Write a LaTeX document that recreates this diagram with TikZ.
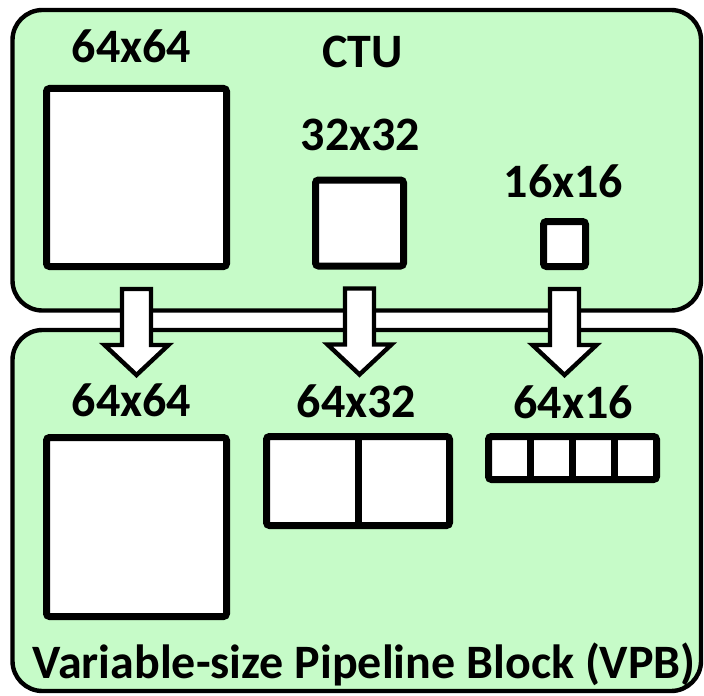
\documentclass[tikz,border=0pt]{standalone}
\usepackage{fontspec}
\setmainfont{Carlito}
\usetikzlibrary{positioning,calc}
\definecolor{PanelGreen}{HTML}{C6FBC8}

\begin{document}
\begin{tikzpicture}[
  x=0.5pt, y=-0.5pt,
  panel/.style={draw=black, fill=PanelGreen, line width=2.2pt, rounded corners=15pt,
    inner sep=0pt, outer sep=0pt},
  blk/.style={draw=black, fill=white, line width=3.5pt, rounded corners=1.5pt,
    inner sep=0pt, outer sep=0pt},
  lbl/.style={font=\fontsize{24}{28}\selectfont\bfseries, anchor=base, inner sep=0pt},
  fatarrow/.style={draw=black, fill=white, line width=2.2pt, line join=miter}
]
\useasboundingbox (0,0) rectangle (704,695);
\node[panel, minimum width=344.25pt, minimum height=150.25pt] (ctu) at (356.75,160.25) {};
\node[panel, minimum width=344.25pt, minimum height=180.5pt] (vpb) at (356.75,510.5) {};
% CTU blocks
\node[blk, minimum width=90pt, minimum height=89pt] (ctuBig) at (136.5,177.5) {};
\node[blk, minimum width=44pt, minimum height=43pt] (ctuMid) at (359.5,223) {};
\node[blk, minimum width=21pt, minimum height=22.5pt] (ctuSmall) at (564.5,244) {};
\node[lbl] (ctuBigLbl) at (131.5,63) {64x64};
\node[lbl] (ctuName) at (362.5,68) {CTU};
\node[lbl] (ctuMidLbl) at (360.5,150) {32x32};
\node[lbl] (ctuSmallLbl) at (563.5,197) {16x16};
% VPB blocks
\node[blk, minimum width=90pt, minimum height=89.5pt] (vpbBig) at (136.5,527) {};
\node[blk, minimum width=91.5pt, minimum height=44.5pt] (vpbMid) at (358,481) {};
\node[blk, minimum width=84pt, minimum height=21.5pt] (vpbSmall) at (572.5,458) {};
\draw[line width=3.5pt] (vpbMid.north) -- (vpbMid.south);
\foreach \f in {0.25,0.5,0.75}
  \draw[line width=3.5pt] ($(vpbSmall.north west)!\f!(vpbSmall.north east)$)
    -- ($(vpbSmall.south west)!\f!(vpbSmall.south east)$);
\node[lbl] (vpbBigLbl) at (131.5,416) {64x64};
\node[lbl] (vpbMidLbl) at (356.5,417) {64x32};
\node[lbl] (vpbSmallLbl) at (573,418) {64x16};
\node[lbl] (vpbName) at (364,678) {Variable-size Pipeline Block (VPB)};
% block arrows
\foreach \blkname in {ctuBig,ctuMid,ctuSmall}
  \draw[fatarrow] ($(\blkname.south)+(-14.5,22.5)$) -- ++(29,0) -- ++(0,56)
    -- ++(17.5,0) -- ++(-32,30) -- ++(-32,-30) -- ++(17.5,0) -- cycle;
\end{tikzpicture}
\end{document}
